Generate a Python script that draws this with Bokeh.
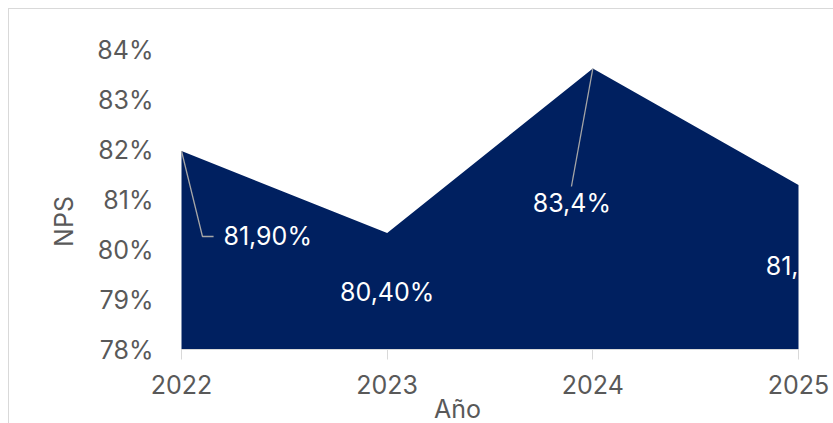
import math
from bokeh.plotting import figure
from bokeh.models import Range1d, FixedTicker, PrintfTickFormatter
from bokeh.core.properties import value
from bokeh.embed import file_html
from bokeh.resources import INLINE

# ---- data ----
years = [2022, 2023, 2024, 2025]
nps = [81.97, 80.33, 83.62, 81.29]
point_labels = ["81,90%", "80,40%", "83,4%", "81,"]
y_ticks = [78, 79, 80, 81, 82, 83, 84]
x_title = "Año"
y_title = "NPS"

FONT = "Inter"
FS = "25px"
GREY_TXT = "#595959"
AXIS_GREY = "#d9d9d9"
NAVY = "#002060"
LEADER = "#a6a6a6"

y_lo, y_hi = y_ticks[0], y_ticks[-1]

# ---- layout (page pixels): where the first/last category and min/max tick sit ----
PX_X0, PX_X1 = 180, 797     # x pixel of first / last year
PX_YTOP, PX_YBOT = 48, 348  # y pixel of top / bottom tick
FIG_L, FIG_T, FIG_W, FIG_H = 8, 8, 825, 415


def px2x(px):
    return years[0] + (px - PX_X0) * (years[-1] - years[0]) / (PX_X1 - PX_X0)


def py2y(py):
    return y_hi - (py - PX_YTOP) * (y_hi - y_lo) / (PX_YBOT - PX_YTOP)


p = figure(width=FIG_W, height=FIG_H, output_backend="svg", toolbar_location=None,
           x_range=Range1d(px2x(FIG_L), px2x(FIG_L + FIG_W)),
           y_range=Range1d(py2y(FIG_T + FIG_H), py2y(FIG_T)),
           min_border=0, min_border_left=0, min_border_right=0,
           min_border_top=0, min_border_bottom=0)
p.styles = {"margin-left": "8px", "margin-top": "8px",
            "border-left": "1px solid #d9d9d9", "border-top": "1px solid #d9d9d9"}
p.outline_line_color = None
p.xgrid.visible = False
p.ygrid.visible = False
p.background_fill_color = "white"
p.border_fill_color = "white"

p.varea(x=years, y1=[y_lo] * len(years), y2=nps, fill_color=NAVY)

# x axis (fixed at the bottom tick value)
xa = p.xaxis[0]
xa.fixed_location = y_lo
xa.bounds = (years[0], years[-1])
xa.ticker = FixedTicker(ticks=years)
xa.axis_line_color = AXIS_GREY
xa.major_tick_line_color = AXIS_GREY
xa.major_tick_out = 10
xa.major_tick_in = 0
xa.minor_tick_line_color = None
xa.major_label_text_font = FONT
xa.major_label_text_font_size = FS
xa.major_label_text_color = GREY_TXT
xa.major_label_standoff = 15

# y axis (fixed at the first year)
ya = p.yaxis[0]
ya.fixed_location = years[0]
ya.bounds = (y_lo, y_hi)
ya.ticker = FixedTicker(ticks=y_ticks)
ya.formatter = PrintfTickFormatter(format="%d%%")
ya.axis_line_color = None
ya.major_tick_line_color = None
ya.minor_tick_line_color = None
ya.major_tick_out = 0
ya.major_label_standoff = 28
ya.major_label_text_font = FONT
ya.major_label_text_font_size = FS
ya.major_label_text_color = GREY_TXT

# axis titles
p.text(x=[px2x(456)], y=[py2y(407)], text=[x_title], text_font=value(FONT),
       text_font_size=FS, text_color=GREY_TXT, text_align="center",
       text_baseline="middle")
p.text(x=[px2x(62)], y=[py2y(220)], text=[y_title], text_font=value(FONT),
       text_font_size=FS, text_color=GREY_TXT, text_align="center",
       text_baseline="middle", angle=math.pi / 2)

# data labels (offsets relative to each point)
dx = [0.204, 0.0, -0.102, 0.0]
dy = [-1.69, -1.17, -2.69, -1.61]
align = ["left", "center", "center", "right"]
for x, y, t, ox, oy, al in zip(years, nps, point_labels, dx, dy, align):
    p.text(x=[x + ox], y=[y + oy], text=[t], text_font=value(FONT),
           text_font_size=FS, text_color="white", text_align=al,
           text_baseline="middle")

# leader lines
p.line(x=[years[0], years[0] + 0.102, years[0] + 0.156],
       y=[nps[0], nps[0] - 1.71, nps[0] - 1.71], line_color=LEADER, line_width=1.3)
p.line(x=[years[2], years[2] - 0.104], y=[nps[2], nps[2] - 2.36],
       line_color=LEADER, line_width=1.3)

open("out.html", "w").write(file_html(p, INLINE))
